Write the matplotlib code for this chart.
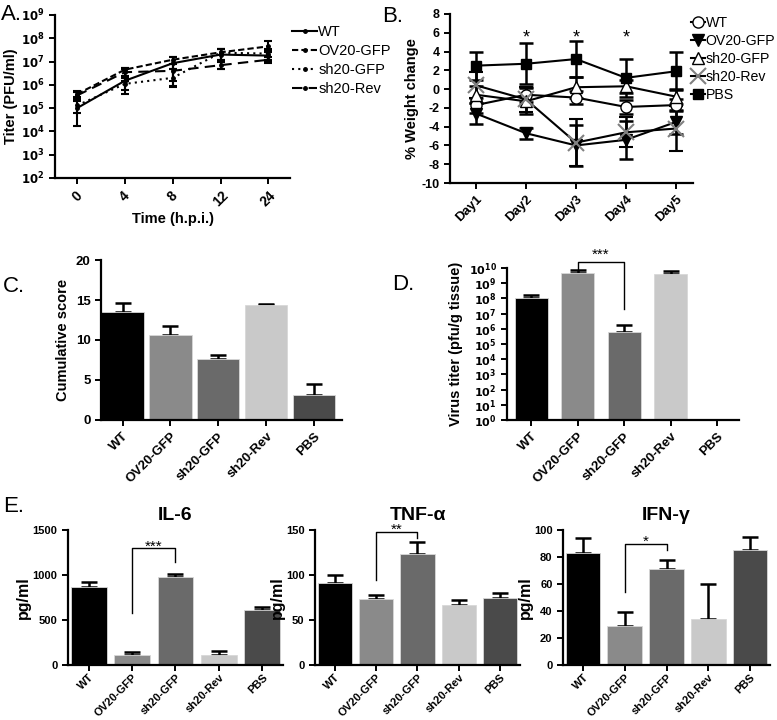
import numpy as np
import matplotlib.pyplot as plt
from matplotlib.lines import Line2D

plt.rcParams['font.family'] = ['Liberation Sans', 'DejaVu Sans']
plt.rcParams['axes.linewidth'] = 1.6
plt.rcParams['xtick.major.width'] = 1.4
plt.rcParams['ytick.major.width'] = 1.4
plt.rcParams['axes.unicode_minus'] = False

groups = ['WT', 'OV20-GFP', 'sh20-GFP', 'sh20-Rev', 'PBS']
bar_colors = ['#000000', '#8a8a8a', '#6a6a6a', '#c9c9c9', '#4a4a4a']

# Panel A: growth curves
timepoints = ['0', '4', '8', '12', '24']
titer = {
    'WT':       [1.0e5, 1.5e6, 8.5e6, 2.0e7, 1.8e7],
    'OV20-GFP': [4.0e5, 4.5e6, 1.2e7, 2.5e7, 4.5e7],
    'sh20-GFP': [1.3e5, 1.1e6, 2.0e6, 2.4e7, 2.2e7],
    'sh20-Rev': [3.5e5, 3.5e6, 4.0e6, 7.0e6, 1.2e7],
}
titer_lo = {
    'WT':       [1.7e4, 4.0e5, 8.0e5, 5.0e6, 1.0e7],
    'OV20-GFP': [2.5e5, 2.0e6, 5.0e6, 1.2e7, 2.5e7],
    'sh20-GFP': [6.0e4, 6.0e5, 9.0e5, 1.2e7, 1.2e7],
    'sh20-Rev': [2.0e5, 1.5e6, 1.5e6, 5.0e6, 9.0e6],
}
titer_hi = {
    'WT':       [5.5e5, 5.5e6, 1.6e7, 3.5e7, 2.8e7],
    'OV20-GFP': [5.0e5, 5.5e6, 1.6e7, 3.5e7, 7.5e7],
    'sh20-GFP': [3.0e5, 2.5e6, 5.0e6, 3.5e7, 3.5e7],
    'sh20-Rev': [5.0e5, 5.0e6, 8.0e6, 1.0e7, 1.6e7],
}
a_styles = {'WT': '-', 'OV20-GFP': (0, (3, 1.5)), 'sh20-GFP': (0, (1, 2)), 'sh20-Rev': (0, (5, 3))}

# Panel B: weight change
days = ['Day1', 'Day2', 'Day3', 'Day4', 'Day5']
weight = {
    'WT':       [-1.7, -0.6, -0.9, -1.9, -1.7],
    'OV20-GFP': [-2.6, -4.7, -6.0, -5.4, -3.5],
    'sh20-GFP': [-0.6, -1.3, 0.2, 0.3, -0.8],
    'sh20-Rev': [0.4, -1.1, -5.7, -4.6, -4.2],
    'PBS':      [2.5, 2.7, 3.2, 1.2, 1.9],
}
weight_err = {
    'WT':       [0.8, 0.8, 0.7, 0.7, 0.6],
    'OV20-GFP': [1.1, 0.6, 2.2, 2.0, 1.3],
    'sh20-GFP': [0.9, 1.4, 1.1, 0.7, 0.8],
    'sh20-Rev': [1.4, 1.3, 2.5, 1.6, 2.4],
    'PBS':      [1.5, 2.2, 1.9, 2.0, 2.0],
}
b_markers = {
    'WT': dict(marker='o', mfc='white', mec='black', color='black', ms=8),
    'OV20-GFP': dict(marker='v', mfc='black', mec='black', color='black', ms=9),
    'sh20-GFP': dict(marker='^', mfc='white', mec='black', color='black', ms=9),
    'sh20-Rev': dict(marker='x', mfc='none', mec='#808080', color='black', ms=11, mew=1.5),
    'PBS': dict(marker='s', mfc='black', mec='black', color='black', ms=7),
}

# Panel C: cumulative score
score = [13.5, 10.6, 7.6, 14.4, 3.1]
score_err = [1.1, 1.1, 0.5, 0.1, 1.4]

# Panel D: virus titer in tissue
tissue = [1.1e8, 5.0e9, 6.0e5, 4.0e9, 0]
tissue_hi = [1.6e8, 7.0e9, 1.8e6, 6.0e9, 0]

# Panel E: cytokines
il6 = [870, 110, 980, 115, 610]
il6_err = [50, 30, 30, 40, 40]
tnf = [91, 73, 123, 67, 74]
tnf_err = [9, 5, 14, 5, 6]
ifn = [83, 29, 71, 34, 85]
ifn_err = [11, 10, 7, 26, 10]

W, H = 777, 720
fig = plt.figure(figsize=(W / 100, H / 100), dpi=100)


def px_axes(left, right, top, bottom):
    return fig.add_axes([left / W, 1 - bottom / H, (right - left) / W, (bottom - top) / H])


def style(ax, xfs=9, yfs=9, xpad=3.5):
    ax.spines['top'].set_visible(False)
    ax.spines['right'].set_visible(False)
    ax.tick_params(length=4)
    ax.tick_params(axis='x', labelsize=xfs, pad=xpad)
    ax.tick_params(axis='y', labelsize=yfs)
    for lab in ax.get_xticklabels() + ax.get_yticklabels():
        lab.set_fontweight('bold')


def bold_pow(exps):
    return [r'$\mathbf{10^{%d}}$' % e for e in exps]


# ---- A ----
axA = px_axes(55, 290, 15, 178)
x = np.arange(len(timepoints))
for g in titer:
    v = np.array(titer[g])
    lo = v - np.array(titer_lo[g])
    hi = np.array(titer_hi[g]) - v
    axA.errorbar(x, v, yerr=[lo, hi], color='black', ls=a_styles[g], lw=1.5,
                 marker='o', ms=2.5, capsize=3, elinewidth=1.5, capthick=1.5)
axA.set_yscale('log')
axA.set_ylim(1e2, 1e9)
axA.set_xlim(-0.46, 4.45)
axA.set_yticks([10.0 ** e for e in range(2, 10)])
axA.set_yticklabels(bold_pow(range(2, 10)))
axA.set_xticks(x)
axA.set_xticklabels(timepoints, rotation=45)
axA.set_ylabel('Titer (PFU/ml)', fontweight='bold', fontsize=10.5, labelpad=2)
axA.set_xlabel('Time (h.p.i.)', fontweight='bold', fontsize=10.5, labelpad=2)
style(axA, xfs=10, yfs=8.5)
handlesA = [Line2D([], [], color='black', ls=a_styles[g], lw=1.5, marker='o', ms=2.5) for g in titer]
fig.legend(handlesA, list(titer.keys()), loc='upper left', bbox_to_anchor=(279 / W, 1 - 12 / H),
           frameon=False, fontsize=10.5, handlelength=1.7, handletextpad=0.1, labelspacing=0.35)

# ---- B ----
axB = px_axes(450, 693, 14, 183)
xd = np.arange(len(days))
for g in weight:
    kw = b_markers[g]
    axB.errorbar(xd, weight[g], yerr=weight_err[g], lw=1.5, capsize=5, elinewidth=1.8,
                 capthick=1.8, ecolor='black', **kw)
axB.set_ylim(-10, 8)
axB.set_yticks(range(-10, 9, 2))
axB.set_xlim(-0.52, 4.34)
axB.set_xticks(xd)
axB.set_xticklabels(days, rotation=45, ha='right', rotation_mode='anchor')
axB.set_ylabel('% Weight change', fontweight='bold', fontsize=10.5, labelpad=2)
for i in [1, 2, 3]:
    axB.text(i, 5.4, '*', ha='center', va='center', fontsize=13)
style(axB, xfs=9.5, yfs=9)
handlesB = [Line2D([], [], lw=1.5, **b_markers[g]) for g in weight]
fig.legend(handlesB, list(weight.keys()), loc='upper left', bbox_to_anchor=(681 / W, 1 - 6 / H),
           frameon=False, fontsize=10.2, handlelength=1.0, handletextpad=0.05, labelspacing=0.28,
           borderpad=0.2)


def bars(ax, vals, errs, width):
    xb = np.arange(len(vals))
    ax.bar(xb, vals, width=width, color=bar_colors, edgecolor='#d8d8d8', linewidth=0.6, zorder=2)
    ax.errorbar(xb, vals, yerr=[np.zeros(len(vals)), errs], fmt='none', ecolor='black',
                elinewidth=1.8, capsize=6, capthick=1.8, zorder=1)
    ax.set_xticks(xb)
    ax.set_xticklabels(groups, rotation=45, ha='right', rotation_mode='anchor')


def bracket(ax, x1, x2, y1, y2, ytop, label, dy):
    ax.plot([x1, x1, x2, x2], [y1, ytop, ytop, y2], color='black', lw=1, clip_on=False)
    ax.text((x1 + x2) / 2, ytop + dy, label, ha='center', va='bottom', fontsize=11, clip_on=False)


# ---- C ----
axC = px_axes(101, 342, 260, 420)
bars(axC, score, score_err, 0.88)
axC.set_xlim(-0.45, 4.58)
axC.set_ylim(0, 20)
axC.set_yticks([0, 5, 10, 15, 20])
axC.set_yticklabels(['0', '5', '10', '15', '20'])
axC.set_ylabel('Cumulative score', fontweight='bold', fontsize=10.5)
style(axC, xfs=9.5, yfs=9.5)

# ---- D ----
axD = px_axes(507, 739, 268, 420)
xb = np.arange(len(tissue))
tv = np.array(tissue, dtype=float)
axD.bar(xb, np.where(tv > 0, tv, np.nan), width=0.71, color=bar_colors, edgecolor='#d8d8d8',
        linewidth=0.6, zorder=2)
hi = np.array(tissue_hi, dtype=float) - tv
axD.errorbar(xb[:4], tv[:4], yerr=[np.zeros(4), hi[:4]], fmt='none', ecolor='black',
             elinewidth=1.8, capsize=6, capthick=1.8, zorder=1)
axD.set_yscale('log')
axD.set_ylim(1, 1e10)
axD.set_xlim(-0.52, 4.47)
axD.set_yticks([10.0 ** e for e in range(0, 11)])
axD.set_yticklabels(bold_pow(range(0, 11)))
axD.set_xticks(xb)
axD.set_xticklabels(groups, rotation=45, ha='right', rotation_mode='anchor')
axD.set_ylabel('Virus titer (pfu/g tissue)', fontweight='bold', fontsize=10.5)
style(axD, xfs=9.5, yfs=8)
axD.tick_params(which='minor', length=2)
bracket(axD, 1, 2, 7e9, 2e7, 2.5e10, '***', 0)

# ---- E ----
e_data = [('IL-6', il6, il6_err, 1500, [0, 500, 1000, 1500], (1, 2, 580, 1140, 1300, '***'), 68, 283),
          ('TNF-α', tnf, tnf_err, 150, [0, 50, 100, 150], (1, 2, 94, 141, 148, '**'), 315, 520),
          ('IFN-γ', ifn, ifn_err, 100, [0, 20, 40, 60, 80, 100], (1, 2, 54, 85, 90, '*'), 563, 770)]
for title, vals, errs, ymax, yt, br, l, r in e_data:
    ax = px_axes(l, r, 530, 665)
    bars(ax, vals, errs, 0.83)
    ax.set_xlim(-0.48, 4.48)
    ax.set_ylim(0, ymax)
    ax.set_yticks(yt)
    ax.set_yticklabels([str(t) for t in yt])
    ax.set_ylabel('pg/ml', fontweight='bold', fontsize=11.5, labelpad=1)
    ax.set_title(title, fontweight='bold', fontsize=14, pad=7)
    style(ax, xfs=8, yfs=8, xpad=1)
    bracket(ax, br[0], br[1], br[2], br[3], br[4], br[5], -ymax * 0.04)

# panel letters
for letter, xp, yp in [('A.', 1, 20), ('B.', 382, 22), ('C.', 3, 292), ('D.', 392, 290), ('E.', 3, 512)]:
    fig.text(xp / W, 1 - yp / H, letter, fontsize=16, ha='left', va='baseline')

fig.savefig('out.png', dpi=100)
